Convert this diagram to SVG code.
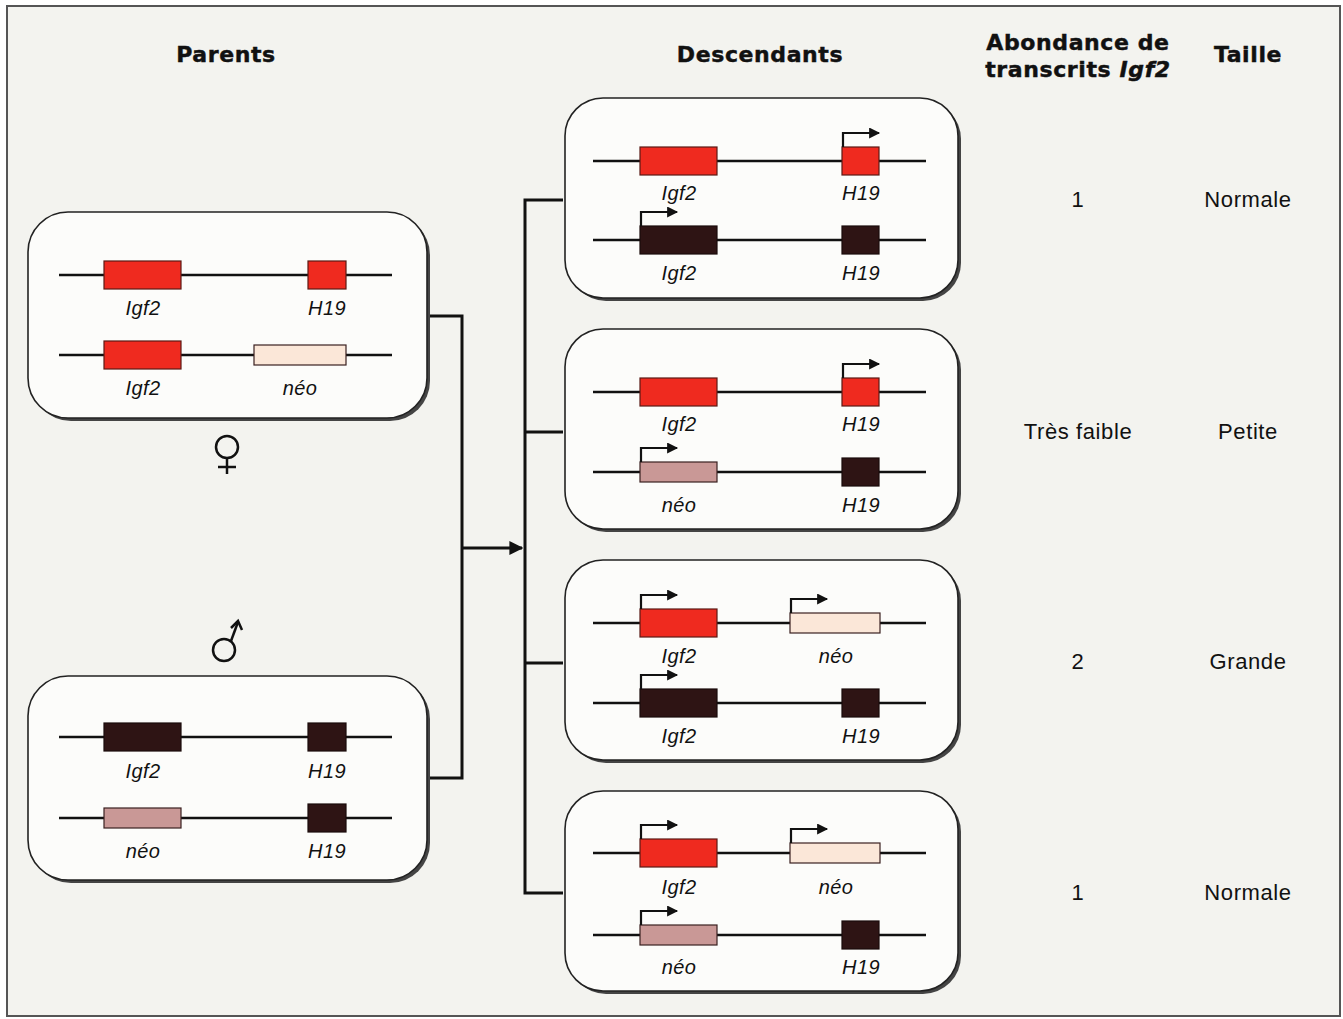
<svg xmlns="http://www.w3.org/2000/svg" width="1343" height="1019" viewBox="0 0 1343 1019">
<defs>
<marker id="ah" viewBox="0 0 10 10" refX="9" refY="5" markerWidth="12" markerHeight="11" markerUnits="userSpaceOnUse" orient="auto"><path d="M0,0 L10,5 L0,10 z" fill="#111"/></marker>
<marker id="ah2" viewBox="0 0 10 10" refX="9" refY="5" markerWidth="14" markerHeight="14" markerUnits="userSpaceOnUse" orient="auto"><path d="M0,0 L10,5 L0,10 z" fill="#111"/></marker>
<style>
.hdr{font-family:"DejaVu Sans",Lato,sans-serif;font-weight:bold;font-size:22px;letter-spacing:0.6px;fill:#111;stroke:#111;stroke-width:0.45;text-anchor:middle}
.val{font-family:"Liberation Sans",Arial,sans-serif;font-size:22px;letter-spacing:0.6px;fill:#111;text-anchor:middle}
.gl{font-family:"Liberation Sans",Arial,sans-serif;font-style:italic;font-size:20px;letter-spacing:0.4px;fill:#111;text-anchor:middle}
.box{fill:#fcfcfa;stroke:#222;stroke-width:1.6}
.shadow{fill:#444}
.chr{stroke:#111;stroke-width:2.5}
.red{fill:#ef2a1f;stroke:#5a1a14;stroke-width:1.2}
.dark{fill:#2e1414;stroke:#1a0a0a;stroke-width:1.2}
.pale{fill:#fbe7d8;stroke:#3a2020;stroke-width:1.2}
.pink{fill:#c99896;stroke:#3a2020;stroke-width:1.2}
.prom{fill:none;stroke:#111;stroke-width:2.2}
.conn{fill:none;stroke:#111;stroke-width:3}
.sym{fill:none;stroke:#111;stroke-width:2.5}
</style>
</defs>
<rect x="0" y="0" width="1343" height="1019" fill="#ffffff"/>
<rect x="7" y="6" width="1333" height="1010" fill="#f3f3ef" stroke="#555" stroke-width="2"/>

<g id="headers">
<text class="hdr" x="226" y="62">Parents</text>
<text class="hdr" x="760" y="62">Descendants</text>
<text class="hdr" x="1078" y="50">Abondance de</text>
<text class="hdr" x="1078" y="77">transcrits <tspan font-style="italic">Igf2</tspan></text>
<text class="hdr" x="1248" y="62">Taille</text>
</g>

<g id="connectors">
<path class="conn" d="M427,316 H462 V778 H427"/>
<path class="conn" d="M462,548 H522" marker-end="url(#ah2)"/>
<path class="conn" d="M563,200 H525 V893 H563"/>
<path class="conn" d="M525,432 H563"/>
<path class="conn" d="M525,663 H563"/>
</g>

<g id="parent-female">
<rect class="shadow" x="31" y="215" width="399" height="206" rx="40"/>
<rect class="box" x="28" y="212" width="399" height="206" rx="40"/>
<line class="chr" x1="59" y1="275" x2="392" y2="275"/>
<rect class="red" x="104" y="261" width="77" height="28"/>
<rect class="red" x="308" y="261" width="38" height="28"/>
<text class="gl" x="143" y="315">Igf2</text>
<text class="gl" x="327" y="315">H19</text>
<line class="chr" x1="59" y1="355" x2="392" y2="355"/>
<rect class="red" x="104" y="341" width="77" height="28"/>
<rect class="pale" x="254" y="345" width="92" height="20"/>
<text class="gl" x="143" y="395">Igf2</text>
<text class="gl" x="300" y="395">néo</text>
</g>

<g id="female-symbol">
<circle class="sym" cx="227" cy="447" r="11"/>
<line class="sym" x1="227" y1="458" x2="227" y2="474"/>
<line class="sym" x1="218" y1="467" x2="236" y2="467"/>
</g>

<g id="male-symbol">
<circle class="sym" cx="224" cy="650" r="11"/>
<line class="sym" x1="231" y1="641" x2="238" y2="622"/>
<path class="sym" d="M231,628 L238,621 L242,630"/>
</g>

<g id="parent-male">
<rect class="shadow" x="31" y="679" width="399" height="204" rx="40"/>
<rect class="box" x="28" y="676" width="399" height="204" rx="40"/>
<line class="chr" x1="59" y1="737" x2="392" y2="737"/>
<rect class="dark" x="104" y="723" width="77" height="28"/>
<rect class="dark" x="308" y="723" width="38" height="28"/>
<text class="gl" x="143" y="778">Igf2</text>
<text class="gl" x="327" y="778">H19</text>
<line class="chr" x1="59" y1="818" x2="392" y2="818"/>
<rect class="pink" x="104" y="808" width="77" height="20"/>
<rect class="dark" x="308" y="804" width="38" height="28"/>
<text class="gl" x="143" y="858">néo</text>
<text class="gl" x="327" y="858">H19</text>
</g>

<g id="offspring-1">
<rect class="shadow" x="568" y="101" width="393" height="200" rx="38"/>
<rect class="box" x="565" y="98" width="393" height="200" rx="38"/>
<line class="chr" x1="593" y1="161" x2="926" y2="161"/>
<rect class="red" x="640" y="147" width="77" height="28"/>
<rect class="red" x="842" y="147" width="37" height="28"/>
<path class="prom" d="M843,147 V133 H879" marker-end="url(#ah)"/>
<text class="gl" x="679" y="200">Igf2</text>
<text class="gl" x="861" y="200">H19</text>
<line class="chr" x1="593" y1="240" x2="926" y2="240"/>
<rect class="dark" x="640" y="226" width="77" height="28"/>
<rect class="dark" x="842" y="226" width="37" height="28"/>
<path class="prom" d="M641,226 V212 H677" marker-end="url(#ah)"/>
<text class="gl" x="679" y="280">Igf2</text>
<text class="gl" x="861" y="280">H19</text>
</g>

<g id="offspring-2">
<rect class="shadow" x="568" y="332" width="393" height="200" rx="38"/>
<rect class="box" x="565" y="329" width="393" height="200" rx="38"/>
<line class="chr" x1="593" y1="392" x2="926" y2="392"/>
<rect class="red" x="640" y="378" width="77" height="28"/>
<rect class="red" x="842" y="378" width="37" height="28"/>
<path class="prom" d="M843,378 V364 H879" marker-end="url(#ah)"/>
<text class="gl" x="679" y="431">Igf2</text>
<text class="gl" x="861" y="431">H19</text>
<line class="chr" x1="593" y1="472" x2="926" y2="472"/>
<rect class="pink" x="640" y="462" width="77" height="20"/>
<rect class="dark" x="842" y="458" width="37" height="28"/>
<path class="prom" d="M641,462 V448 H677" marker-end="url(#ah)"/>
<text class="gl" x="679" y="512">néo</text>
<text class="gl" x="861" y="512">H19</text>
</g>

<g id="offspring-3">
<rect class="shadow" x="568" y="563" width="393" height="200" rx="38"/>
<rect class="box" x="565" y="560" width="393" height="200" rx="38"/>
<line class="chr" x1="593" y1="623" x2="926" y2="623"/>
<rect class="red" x="640" y="609" width="77" height="28"/>
<rect class="pale" x="790" y="613" width="90" height="20"/>
<path class="prom" d="M641,609 V595 H677" marker-end="url(#ah)"/>
<path class="prom" d="M791,613 V599 H827" marker-end="url(#ah)"/>
<text class="gl" x="679" y="663">Igf2</text>
<text class="gl" x="836" y="663">néo</text>
<line class="chr" x1="593" y1="703" x2="926" y2="703"/>
<rect class="dark" x="640" y="689" width="77" height="28"/>
<rect class="dark" x="842" y="689" width="37" height="28"/>
<path class="prom" d="M641,689 V675 H677" marker-end="url(#ah)"/>
<text class="gl" x="679" y="743">Igf2</text>
<text class="gl" x="861" y="743">H19</text>
</g>

<g id="offspring-4">
<rect class="shadow" x="568" y="794" width="393" height="200" rx="38"/>
<rect class="box" x="565" y="791" width="393" height="200" rx="38"/>
<line class="chr" x1="593" y1="853" x2="926" y2="853"/>
<rect class="red" x="640" y="839" width="77" height="28"/>
<rect class="pale" x="790" y="843" width="90" height="20"/>
<path class="prom" d="M641,839 V825 H677" marker-end="url(#ah)"/>
<path class="prom" d="M791,843 V829 H827" marker-end="url(#ah)"/>
<text class="gl" x="679" y="894">Igf2</text>
<text class="gl" x="836" y="894">néo</text>
<line class="chr" x1="593" y1="935" x2="926" y2="935"/>
<rect class="pink" x="640" y="925" width="77" height="20"/>
<rect class="dark" x="842" y="921" width="37" height="28"/>
<path class="prom" d="M641,925 V911 H677" marker-end="url(#ah)"/>
<text class="gl" x="679" y="974">néo</text>
<text class="gl" x="861" y="974">H19</text>
</g>

<g id="results">
<text class="val" x="1078" y="207">1</text>
<text class="val" x="1248" y="207">Normale</text>
<text class="val" x="1078" y="439">Très faible</text>
<text class="val" x="1248" y="439">Petite</text>
<text class="val" x="1078" y="669">2</text>
<text class="val" x="1248" y="669">Grande</text>
<text class="val" x="1078" y="900">1</text>
<text class="val" x="1248" y="900">Normale</text>
</g>
</svg>
